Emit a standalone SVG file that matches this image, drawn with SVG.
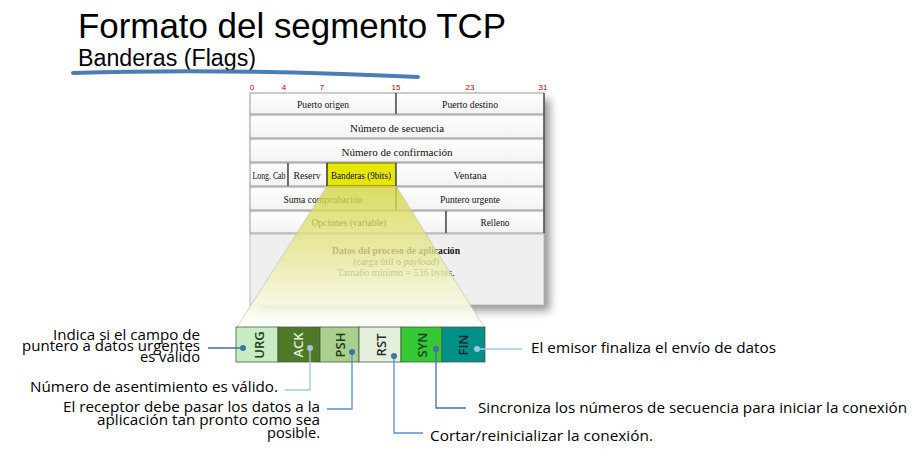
<svg xmlns="http://www.w3.org/2000/svg" width="916" height="476" viewBox="0 0 916 476">
  <defs>
    <linearGradient id="cellFill" x1="0" y1="0" x2="0" y2="1">
      <stop offset="0" stop-color="#ffffff"/>
      <stop offset="1" stop-color="#f3f3f3"/>
    </linearGradient>
    <linearGradient id="funnelFill" gradientUnits="userSpaceOnUse" x1="0" y1="186" x2="0" y2="327">
      <stop offset="0" stop-color="#d4d444" stop-opacity="0.82"/>
      <stop offset="0.35" stop-color="#e2e27a" stop-opacity="0.76"/>
      <stop offset="0.75" stop-color="#f6f6d2" stop-opacity="0.84"/>
      <stop offset="1" stop-color="#ffffff" stop-opacity="0.93"/>
    </linearGradient>
    <filter id="tableShadow" x="-5%" y="-5%" width="115%" height="120%">
      <feDropShadow dx="6" dy="6" stdDeviation="4" flood-color="#000" flood-opacity="0.4"/>
    </filter>
    <style>
      .title { font-family: "Liberation Sans", Arial, sans-serif; fill: #000; }
      .bit { font-family: "Liberation Sans", Arial, sans-serif; font-size: 8px; fill: #c00000; text-anchor: middle; }
      .cell { fill: url(#cellFill); stroke: #9a9a9a; stroke-width: 1; }
      .sep { stroke: #3a3a3a; stroke-width: 1.2; }
      .tt { font-family: "Liberation Serif", "Times New Roman", serif; font-size: 10px; fill: #111; text-anchor: middle; }
      .flag { stroke: #4a5a40; stroke-width: 0.8; }
      .flabel { font-family: "Open Sans", "Noto Sans", sans-serif; font-size: 13px; font-weight: 600; text-anchor: middle; }
      .desc { font-family: "Open Sans", "Noto Sans", "Liberation Sans", sans-serif; font-size: 15px; fill: #000; }
      .dk { stroke: #3f72aa; }
      .md { stroke: #5a8fcc; }
      .lt { stroke: #a2c6e8; }
      .wire { fill: none; stroke-width: 1.3; }
    </style>
  </defs>

  <!-- heading -->
  <g id="heading">
    <text class="title" x="78" y="38" font-size="35" textLength="428" lengthAdjust="spacingAndGlyphs">Formato del segmento TCP</text>
    <text class="title" x="78" y="66" font-size="23" textLength="178" lengthAdjust="spacingAndGlyphs">Banderas (Flags)</text>
    <path d="M73,73 Q230,68 418,77" fill="none" stroke="#4a7db5" stroke-width="4" stroke-linecap="round"/>
  </g>

  <!-- bit positions -->
  <g id="bits">
    <text class="bit" x="252" y="90">0</text>
    <text class="bit" x="284" y="90">4</text>
    <text class="bit" x="322" y="90">7</text>
    <text class="bit" x="396" y="90">15</text>
    <text class="bit" x="470" y="90">23</text>
    <text class="bit" x="543" y="90">31</text>
  </g>

  <!-- TCP header table -->
  <g id="tcp-header">
    <g filter="url(#tableShadow)">
      <rect x="250" y="93" width="294" height="212" fill="#efefef"/>
    </g>
    <rect class="cell" x="250" y="93" width="146" height="21"/>
    <rect class="cell" x="396" y="93" width="148" height="21"/>
    <rect class="cell" x="250" y="115" width="294" height="23"/>
    <rect class="cell" x="250" y="139" width="294" height="23"/>
    <rect class="cell" x="250" y="163" width="38" height="23"/>
    <rect class="cell" x="288" y="163" width="39" height="23"/>
    <rect x="327" y="163" width="69" height="23" fill="#e6e600" stroke="#6a6a00" stroke-width="1"/>
    <rect class="cell" x="396" y="163" width="148" height="23"/>
    <rect class="cell" x="250" y="187" width="146" height="23"/>
    <rect class="cell" x="396" y="187" width="148" height="23"/>
    <rect class="cell" x="250" y="211" width="196" height="22"/>
    <rect class="cell" x="446" y="211" width="98" height="22"/>
    <rect x="250" y="234" width="294" height="71" fill="#efefef" stroke="#b0b0b0" stroke-width="0.8"/>
    <g class="sep">
      <line x1="396" y1="93" x2="396" y2="114"/>
      <line x1="288" y1="163" x2="288" y2="186"/>
      <line x1="327" y1="163" x2="327" y2="186"/>
      <line x1="396" y1="163" x2="396" y2="186"/>
      <line x1="396" y1="187" x2="396" y2="210"/>
      <line x1="446" y1="211" x2="446" y2="233"/>
      <line x1="544" y1="93" x2="544" y2="233"/>
    </g>
    <text class="tt" x="323" y="108" textLength="52" lengthAdjust="spacingAndGlyphs">Puerto origen</text>
    <text class="tt" x="470" y="108" textLength="56" lengthAdjust="spacingAndGlyphs">Puerto destino</text>
    <text class="tt" x="397" y="132" font-size="11.5" textLength="94" lengthAdjust="spacingAndGlyphs">Número de secuencia</text>
    <text class="tt" x="397" y="156" font-size="11.5" textLength="111" lengthAdjust="spacingAndGlyphs">Número de confirmación</text>
    <text class="tt" x="269" y="179" font-size="7.5" textLength="33" lengthAdjust="spacingAndGlyphs">Long. Cab</text>
    <text class="tt" x="307" y="179" font-size="9" textLength="27" lengthAdjust="spacingAndGlyphs">Reserv</text>
    <text class="tt" x="361" y="179" font-size="9" textLength="60" lengthAdjust="spacingAndGlyphs">Banderas (9bits)</text>
    <text class="tt" x="470" y="179" textLength="33" lengthAdjust="spacingAndGlyphs">Ventana</text>
    <text class="tt" x="323" y="203" textLength="79" lengthAdjust="spacingAndGlyphs">Suma comprobación</text>
    <text class="tt" x="470" y="203" textLength="60" lengthAdjust="spacingAndGlyphs">Puntero urgente</text>
    <text class="tt" x="349" y="226" textLength="75" lengthAdjust="spacingAndGlyphs">Opciones (variable)</text>
    <text class="tt" x="495" y="226" textLength="29" lengthAdjust="spacingAndGlyphs">Relleno</text>
    <text class="tt" x="396" y="254" font-weight="bold" textLength="128" lengthAdjust="spacingAndGlyphs">Datos del proceso de aplicación</text>
    <text class="tt" x="396" y="265" fill="#444">(carga útil o <tspan font-style="italic">payload</tspan>)</text>
    <text class="tt" x="396" y="276" fill="#444">Tamaño mínimo = 536 bytes.</text>
  </g>

  <!-- expansion of the flags field -->
  <g id="funnel">
    <polygon points="327,186 396,186 484,327 237,327" fill="url(#funnelFill)"/>
    <line x1="327" y1="186" x2="237" y2="327" stroke="#c4c4b0" stroke-width="0.7"/>
    <line x1="396" y1="186" x2="484" y2="327" stroke="#c4c4b0" stroke-width="0.7"/>
  </g>

  <!-- flag bits -->
  <g id="flag-URG">
    <rect class="flag" x="236" y="327" width="42" height="35" fill="#c8ecc4"/>
    <text class="flabel" transform="translate(264,345) rotate(-90)" fill="#1f3b12">URG</text>
  </g>
  <g id="flag-ACK">
    <rect class="flag" x="278" y="327" width="42" height="35" fill="#4e7a28"/>
    <text class="flabel" transform="translate(303,345) rotate(-90)" fill="#e6f2da">ACK</text>
  </g>
  <g id="flag-PSH">
    <rect class="flag" x="320" y="327" width="39" height="35" fill="#a9d08e"/>
    <text class="flabel" transform="translate(345,345) rotate(-90)" fill="#1f3b12">PSH</text>
  </g>
  <g id="flag-RST">
    <rect class="flag" x="359" y="327" width="42" height="35" fill="#e4efdc"/>
    <text class="flabel" transform="translate(386,345) rotate(-90)" fill="#2a2a2a">RST</text>
  </g>
  <g id="flag-SYN">
    <rect class="flag" x="401" y="327" width="41" height="35" fill="#35c935"/>
    <text class="flabel" transform="translate(427,345) rotate(-90)" fill="#14401a">SYN</text>
  </g>
  <g id="flag-FIN">
    <rect class="flag" x="442" y="327" width="43" height="35" fill="#00908a"/>
    <text class="flabel" transform="translate(468,345) rotate(-90)" fill="#0b2626">FIN</text>
  </g>

  <!-- leader lines from each flag to its description -->
  <g id="connectors">
    <polyline class="wire dk" points="243,348 208,348"/>
    <polyline class="wire lt" points="310,348 310,390 285,390"/>
    <polyline class="wire md" points="352,352 352,409 327,409"/>
    <polyline class="wire md" points="394,356 394,433 423,433"/>
    <polyline class="wire dk" points="436,349 436,408 466,408"/>
    <polyline class="wire lt" points="477,349 522,349"/>
    <circle cx="243" cy="348" r="3" fill="#3f72aa"/>
    <circle cx="310" cy="348" r="3" fill="#a2c6e8"/>
    <circle cx="352" cy="352" r="3" fill="#3f72aa"/>
    <circle cx="394" cy="356" r="3" fill="#3f72aa"/>
    <circle cx="436" cy="349" r="3" fill="#3f72aa"/>
    <circle cx="477" cy="349" r="3" fill="#a2c6e8"/>
  </g>

  <!-- descriptions -->
  <g id="desc-URG">
    <text class="desc" text-anchor="end" x="200" y="340" textLength="147" lengthAdjust="spacingAndGlyphs">Indica si el campo de</text>
    <text class="desc" text-anchor="end" x="200" y="351" textLength="178" lengthAdjust="spacingAndGlyphs">puntero a datos urgentes</text>
    <text class="desc" text-anchor="end" x="200" y="362" textLength="60" lengthAdjust="spacingAndGlyphs">es válido</text>
  </g>
  <g id="desc-ACK">
    <text class="desc" x="30" y="392" textLength="248" lengthAdjust="spacingAndGlyphs">Número de asentimiento es válido.</text>
  </g>
  <g id="desc-PSH">
    <text class="desc" text-anchor="end" x="320" y="412" textLength="257" lengthAdjust="spacingAndGlyphs">El receptor debe pasar los datos a la</text>
    <text class="desc" text-anchor="end" x="320" y="425" textLength="223" lengthAdjust="spacingAndGlyphs">aplicación tan pronto como sea</text>
    <text class="desc" text-anchor="end" x="320" y="438" textLength="53" lengthAdjust="spacingAndGlyphs">posible.</text>
  </g>
  <g id="desc-RST">
    <text class="desc" x="430" y="441" textLength="223" lengthAdjust="spacingAndGlyphs">Cortar/reinicializar la conexión.</text>
  </g>
  <g id="desc-SYN">
    <text class="desc" x="478" y="413" textLength="429" lengthAdjust="spacingAndGlyphs">Sincroniza los números de secuencia para iniciar la conexión</text>
  </g>
  <g id="desc-FIN">
    <text class="desc" x="531" y="353" textLength="245" lengthAdjust="spacingAndGlyphs">El emisor finaliza el envío de datos</text>
  </g>
</svg>
